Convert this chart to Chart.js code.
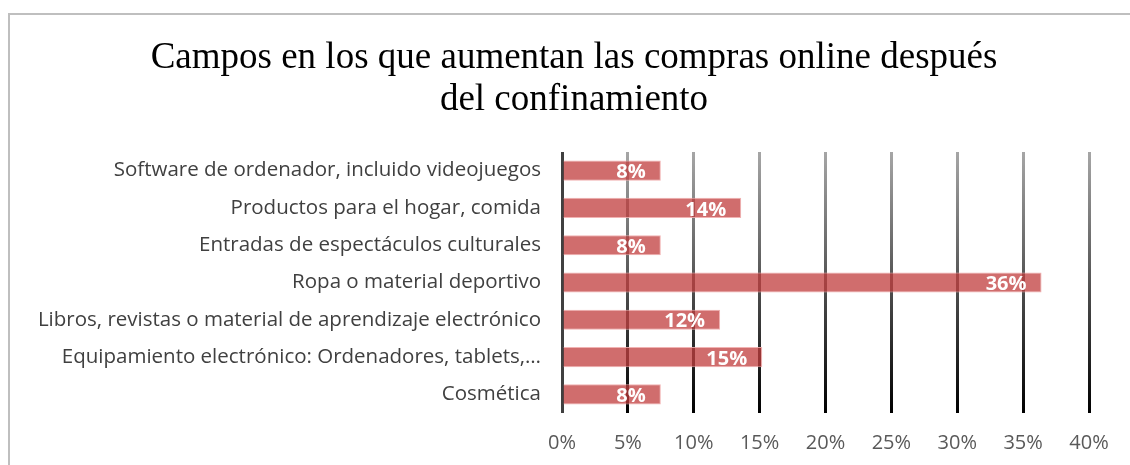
<!DOCTYPE html>
<html>
<head>
<meta charset="utf-8">
<script src="https://cdn.jsdelivr.net/npm/chart.js@4"></script>
<style>
    html, body { margin: 0; padding: 0; background: #fff; }
    #wrap { position: relative; width: 1130px; height: 465px; }
</style>
</head>
<body>
<div id="wrap"><canvas id="chart" width="1130" height="465"></canvas></div>
<script>
// Data
const categories = [
    "Software de ordenador, incluido videojuegos",
    "Productos para el hogar, comida",
    "Entradas de espectáculos culturales",
    "Ropa o material deportivo",
    "Libros, revistas o material de aprendizaje electrónico",
    "Equipamiento electrónico: Ordenadores, tablets,…",
    "Cosmética"
];
const percentages = [7.5, 13.6, 7.5, 36.4, 12.0, 15.2, 7.5];
const xTicks = [0, 5, 10, 15, 20, 25, 30, 35, 40];
const titleLines = ["Campos en los que aumentan las compras online después", "del confinamiento"];

const labelFont = "'Open Sans', 'Noto Sans', sans-serif";

// Grey frame and the two-line title (drawn by hand so it can sit off-centre)
const framePlugin = {
    id: "frame",
    beforeDraw(chart) {
        let ctx = chart.ctx;
        ctx.save();
        ctx.strokeStyle = "#bfbfbf";
        ctx.lineWidth = 2;
        ctx.strokeRect(9, 14, 1200, 600);

        ctx.fillStyle = "#000000";
        ctx.font = "37px 'Liberation Serif', 'Times New Roman', serif";
        ctx.textAlign = "center";
        ctx.textBaseline = "middle";
        titleLines.forEach((line, i) => {
            ctx.fillText(line, 574, 58 + i * 42);
        });
        ctx.restore();
    }
};

// Value labels inside the bars
const barLabels = {
    id: "barLabels",
    afterDatasetsDraw(chart) {
        let ctx = chart.ctx;
        let meta = chart.getDatasetMeta(0);
        ctx.save();
        ctx.font = "bold 20px " + labelFont;
        ctx.fillStyle = "#ffffff";
        ctx.textAlign = "right";
        ctx.textBaseline = "middle";
        meta.data.forEach((bar, i) => {
            ctx.fillText(Math.round(percentages[i]) + "%", bar.x - 15, bar.y + 2);
        });
        ctx.restore();
    }
};

// Grid line colour: dark axis at 0, grey-to-black fade for the rest
function gridColor(context) {
    if (context.index === 0) return "#404040";
    let area = context.chart.chartArea;
    if (!area) return "#555555";
    let g = context.chart.ctx.createLinearGradient(0, area.top, 0, area.bottom);
    g.addColorStop(0, "#a6a6a6");
    g.addColorStop(1, "#000000");
    return g;
}

let canvas = document.getElementById("chart").getContext("2d");
let chart = new Chart(canvas, {
    type: "bar",
    data: {
        labels: categories,
        datasets: [{
            data: percentages,
            backgroundColor: "rgba(192, 60, 60, 0.75)",
            borderColor: "rgba(240, 170, 170, 0.9)",
            borderWidth: 1,
            categoryPercentage: 1,
            barPercentage: 0.54
        }]
    },
    options: {
        indexAxis: "y",
        responsive: false,
        animation: false,
        layout: {
            padding: { left: 0, right: 41, top: 152, bottom: 10 }
        },
        plugins: {
            legend: { display: false },
            tooltip: { enabled: false },
            title: { display: false }
        },
        scales: {
            x: {
                min: 0,
                max: 40,
                afterBuildTicks(scale) {
                    scale.ticks = xTicks.map(v => ({ value: v }));
                },
                afterFit(scale) {
                    scale.height = 42;
                },
                ticks: {
                    color: "#595959",
                    font: { family: labelFont, size: 20 },
                    padding: 18,
                    callback: v => v + "%"
                },
                grid: {
                    color: gridColor,
                    lineWidth: 3,
                    drawTicks: false
                },
                border: { display: false }
            },
            y: {
                afterFit(scale) {
                    scale.width = 562;
                },
                ticks: {
                    color: "#404040",
                    font: { family: labelFont, size: 20.5 },
                    padding: 21
                },
                grid: { display: false, drawTicks: false },
                border: { display: false }
            }
        }
    },
    plugins: [framePlugin, barLabels]
});
</script>
</body>
</html>
